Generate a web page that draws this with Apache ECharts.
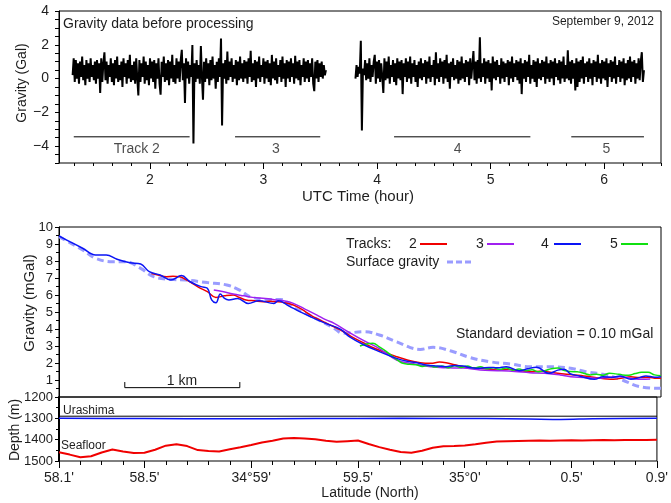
<!DOCTYPE html>
<html><head><meta charset="utf-8">
<script src="https://cdn.jsdelivr.net/npm/echarts@6/dist/echarts.min.js"></script>
<style>html,body{margin:0;padding:0;background:#fff}#c{width:671px;height:503px}</style>
</head><body><div id="c"></div><script>
const FONT = '"Liberation Sans", Arial, Helvetica, sans-serif';
const TXT = '#1e1e1e';

// ---------- top panel: raw gravity (Gal) vs UTC hour ----------
const seg1Start = 1.32, seg1End = 3.55;
const seg1Values = [
0.2,1.2,-0.2,1.1,0.0,0.9,-0.3,1.0,0.1,1.3,-0.1,0.8,-0.4,1.1,0.0,0.9,-0.2,1.2,0.1,0.8,
-0.1,1.0,-0.3,1.1,0.0,0.9,-0.85,1.2,-0.2,0.9,1.55,-0.1,1.0,-0.3,0.8,0.1,1.2,-0.2,0.9,-0.4,
1.1,0.0,1.3,-0.2,0.8,-0.1,1.0,-0.5,1.2,0.1,0.9,-0.3,1.1,0.0,1.4,-0.2,0.8,-0.1,1.0,-0.3,
1.2,0.0,-1.0,1.1,-0.2,0.9,0.1,1.3,-0.3,1.0,-0.1,0.8,-0.4,1.2,0.0,1.0,-0.2,1.1,-0.6,0.9,
0.0,1.2,-0.3,-0.95,1.0,0.1,1.3,-0.2,0.9,-0.1,1.1,-0.4,1.0,0.0,1.4,-0.2,0.8,-0.3,1.2,0.0,
1.0,-0.2,1.1,1.7,-0.1,0.9,-1.45,1.2,0.0,1.0,-0.3,0.8,0.1,1.98,-3.85,0.9,-0.2,1.1,0.0,0.8,
-0.3,1.92,0.1,-1.25,1.0,-0.2,1.2,0.0,0.9,-0.4,1.1,-0.1,1.3,0.0,0.8,-0.6,1.0,-0.2,1.2,0.1,
2.37,-2.78,0.9,0.0,1.1,-0.3,1.6,-0.1,1.0,0.1,1.2,-0.2,0.8,0.0,1.1,-0.4,1.0,-0.1,1.3,0.0,
0.9,-0.2,1.1,0.0,1.0,-0.3,1.2,0.1,1.65,-0.2,0.9,-0.1,1.1,-0.5,1.0,0.0,1.3,-0.2,0.8,0.1,
1.2,-0.3,1.0,0.0,1.1,-0.2,0.9,-0.4,1.4,0.0,1.0,-0.1,1.2,-0.3,0.8,0.1,1.1,-0.2,1.3,0.0,
0.9,-0.5,1.1,0.0,1.0,-0.2,1.2,0.1,0.9,-0.3,1.35,0.0,1.0,-0.1,1.1,-0.4,0.8,0.1,1.2,-0.2,
1.0,0.0,1.1,-0.2,0.9,0.1,1.2,-0.3,-0.75,1.0,0.0,1.1,-0.2,0.9,0.1,1.0,0.0,0.8,0.2,0.5
];
const seg2Start = 3.81, seg2End = 6.35;
const seg2Values = [
0.0,0.8,0.1,0.7,0.3,2.24,-3.08,0.6,0.2,1.1,-0.1,0.9,0.0,1.2,-0.2,0.8,0.1,1.0,1.4,-0.3,
1.0,0.0,1.1,-0.2,0.9,0.1,-0.85,1.2,-0.1,1.0,0.0,1.3,-0.3,0.8,0.1,1.1,-0.2,0.9,-0.4,1.2,
0.0,1.0,-0.1,1.1,-0.92,0.9,0.1,1.2,-0.2,1.0,0.0,1.3,-0.3,0.9,0.1,1.1,-0.2,0.8,-0.5,1.0,
0.0,1.2,-0.1,0.9,0.1,1.1,-0.3,1.0,0.0,1.3,-0.2,0.8,0.1,1.1,-0.4,1.55,0.0,0.9,-0.2,1.2,
0.1,1.0,-0.3,1.1,0.0,1.4,-0.2,0.9,-0.6,1.0,0.1,1.2,-0.1,0.8,0.0,1.1,-0.3,1.0,-0.1,1.3,
0.0,0.9,-0.2,1.1,0.1,1.0,-0.4,1.2,0.0,0.8,1.63,-0.1,1.0,-0.3,1.1,0.0,2.45,-0.2,0.9,0.1,
1.2,-0.3,1.0,0.0,1.1,-0.2,0.9,-0.7,1.3,0.0,1.0,-0.1,1.1,0.1,0.8,-0.3,1.2,0.0,1.0,-0.2,
0.9,0.1,1.1,-0.4,1.0,0.0,1.3,-0.2,0.9,0.1,1.1,-0.1,1.0,-0.3,1.2,-0.92,0.9,0.0,1.1,-0.2,
1.0,0.1,1.4,-0.3,0.8,0.0,1.1,-0.2,1.0,-0.5,1.2,0.0,0.9,-0.1,1.1,0.1,1.0,-0.3,1.3,0.0,
0.9,-0.2,1.1,0.0,1.0,-0.4,1.2,0.1,0.9,-0.1,1.1,-0.3,1.0,0.0,1.3,-0.2,0.8,0.0,1.68,-0.1,
1.0,-0.3,1.1,0.0,0.9,-0.7,1.2,-0.5,1.0,-0.2,1.1,0.0,1.3,-0.3,0.9,0.1,1.0,-0.2,1.2,0.0,
0.9,-0.4,1.1,0.1,1.0,-0.2,1.4,0.0,0.9,-0.3,1.1,0.0,1.0,-0.1,1.2,-0.5,0.9,0.1,1.1,-0.2,
1.0,0.0,1.3,-0.3,0.8,0.1,1.1,-0.2,1.0,0.0,1.2,-0.4,0.9,-0.1,1.1,0.0,1.3,-0.2,1.0,0.1,
1.1,-0.3,0.9,0.0,1.2,-0.1,1.0,1.56,-0.2,0.5
];
const trackNames = ['Track 2', '3', '4', '5'];
const trackStart = [1.33, 2.75, 4.15, 5.71];
const trackEnd   = [2.35, 3.50, 5.35, 6.35];
const trackLabelX = [1.885, 3.11, 4.71, 6.02];
const trackBarY = -3.45, trackLabelY = -4.15;
const utcMajor = [2, 3, 4, 5, 6];

// ---------- middle panel: processed gravity (mGal) vs latitude minutes ----------
const track2Lat = [58.53,58.56,58.60,58.63,58.66,58.69,58.72,58.75,58.79,58.83,58.87,58.91,58.94,58.97,59.01,59.05,59.08,59.11,59.15,59.19,59.23,59.27,59.31,59.35,59.41,59.46,59.52,59.57,59.62,59.67,59.72,59.78,59.83,59.87,59.90,59.94,59.98,60.03,60.08,60.14,60.19,60.24,60.29,60.34,60.40,60.45,60.50,60.54,60.57,60.61,60.65,60.68,60.72,60.76,60.80,60.84,60.88,60.90];
const track2Val = [7.27,7.18,7.08,7.10,7.08,6.90,6.69,6.45,6.20,5.86,5.95,6.00,5.85,5.71,5.66,5.61,5.63,5.61,5.55,5.41,5.15,4.82,4.55,4.30,3.94,3.55,3.16,2.85,2.60,2.37,2.18,2.02,1.98,2.06,2.02,1.90,1.78,1.72,1.66,1.59,1.63,1.55,1.49,1.52,1.43,1.35,1.30,1.24,1.19,1.12,1.06,1.04,1.12,1.19,1.14,1.16,1.10,1.10];
const track3Lat = [58.82,58.86,58.91,58.96,59.00,59.06,59.11,59.15,59.19,59.24,59.30,59.34,59.38,59.45,59.52,59.59,59.67,59.75,59.83,59.90,59.98,60.06,60.14,60.22,60.29,60.36,60.43,60.48,60.54,60.60,60.66,60.71,60.76,60.81,60.85];
const track3Val = [6.29,6.20,6.06,5.95,5.86,5.80,5.71,5.65,5.51,5.20,4.82,4.55,4.33,3.80,3.30,2.85,2.18,1.95,1.78,1.72,1.70,1.59,1.55,1.50,1.43,1.40,1.30,1.19,1.15,1.10,1.16,1.19,1.10,1.04,1.06];
const track4Lat = [58.10,58.15,58.21,58.27,58.32,58.37,58.43,58.48,58.52,58.57,58.62,58.67,58.71,58.76,58.79,58.81,58.83,58.85,58.87,58.89,58.93,58.98,59.03,59.10,59.12,59.17,59.22,59.27,59.34,59.41,59.45,59.52,59.59,59.67,59.73,59.77,59.81,59.86,59.90,59.94,59.98,60.02,60.06,60.10,60.14,60.18,60.24,60.28,60.32,60.38,60.42,60.45,60.48,60.52,60.59,60.63,60.67,60.71,60.76,60.80,60.83,60.87,60.90];
const track4Val = [9.47,9.14,8.75,8.35,8.35,8.10,7.90,7.82,7.37,7.18,6.88,7.14,6.78,6.49,6.40,5.71,5.55,6.06,5.80,5.71,5.80,5.50,5.66,5.50,5.66,5.35,5.02,4.72,4.33,3.98,3.55,3.06,2.67,2.27,2.08,2.00,1.88,1.82,1.78,1.86,1.82,1.72,1.69,1.74,1.72,1.78,1.55,1.66,1.75,1.39,1.58,1.63,1.35,1.24,1.04,1.19,1.15,1.24,1.04,1.14,1.24,1.16,1.19];
const track5Lat = [59.50,59.53,59.56,59.59,59.62,59.65,59.68,59.70,59.73,59.76,59.79,59.82,59.85,59.88,59.91,59.94,59.97,60.00,60.03,60.06,60.09,60.12,60.15,60.18,60.21,60.24,60.27,60.30,60.33,60.36,60.39,60.42,60.45,60.48,60.51,60.54,60.57,60.60,60.63,60.66,60.69,60.72,60.75,60.78,60.81,60.84,60.87,60.90];
const track5Val = [3.00,3.12,3.16,2.95,2.70,2.40,2.12,1.98,1.92,1.90,1.80,1.86,1.76,1.82,1.72,1.84,1.74,1.82,1.70,1.78,1.66,1.72,1.62,1.70,1.58,1.64,1.55,1.60,1.48,1.55,1.66,1.70,1.56,1.50,1.48,1.40,1.30,1.34,1.28,1.40,1.36,1.30,1.28,1.38,1.45,1.46,1.30,1.25];
const surfLat = [58.10,58.21,58.27,58.35,58.41,58.48,58.54,58.62,58.69,58.79,58.88,58.94,58.99,59.07,59.13,59.19,59.28,59.38,59.42,59.52,59.59,59.67,59.78,59.84,59.92,60.01,60.10,60.20,60.29,60.38,60.48,60.55,60.65,60.72,60.80,60.90];
const surfVal = [9.43,8.65,8.16,7.96,7.96,7.57,7.08,6.92,6.88,6.73,6.59,6.29,5.90,5.74,5.74,5.27,4.72,4.04,3.75,3.84,3.65,3.25,2.80,2.92,2.72,2.33,2.08,1.94,1.78,1.78,1.69,1.49,1.29,1.00,0.61,0.51];
const scaleBarLat = [58.406, 58.941];
const scaleBarY = 0.55, scaleBarTickTop = 0.88;

// ---------- bottom panel: depth (m) ----------
const seafloorLat = [58.10,58.15,58.20,58.25,58.30,58.35,58.40,58.45,58.50,58.55,58.60,58.65,58.70,58.75,58.80,58.85,58.90,58.95,59.00,59.05,59.10,59.15,59.20,59.25,59.30,59.35,59.40,59.45,59.50,59.55,59.60,59.65,59.70,59.75,59.80,59.85,59.90,59.95,60.00,60.05,60.10,60.15,60.20,60.25,60.30,60.35,60.40,60.45,60.50,60.55,60.60,60.65,60.70,60.75,60.80,60.85,60.90];
const seafloorDepth = [1459,1470,1482,1478,1460,1446,1455,1462,1461,1447,1428,1421,1430,1449,1453,1455,1445,1436,1425,1413,1405,1395,1392,1394,1398,1405,1410,1407,1404,1420,1435,1447,1458,1461,1452,1438,1431,1430,1427,1422,1414,1409,1407,1406,1405,1404,1405,1404,1403,1404,1403,1402,1403,1402,1401,1401,1400];
const urashimaLat = [58.10,58.50,58.90,59.30,59.70,60.10,60.30,60.45,60.60,60.90];
const urashimaDepth = [1300,1301,1302,1301,1300,1301,1303,1305,1302,1300];
const refDepthLat = [58.10, 60.90];
const refDepth = [1290, 1290];
const latLabelValues = [58.1, 58.5, 59, 59.5, 60, 60.5, 60.9];
const latLabelTexts = ["58.1'", "58.5'", "34\u00b059'", "59.5'", "35\u00b00'", "0.5'", "0.9'"];
const latMajor = [58.1, 58.5, 59, 59.5, 60, 60.5, 60.9];

// ---------- build ----------
function seg(vals, a, b) { const n = vals.length; return vals.map((v, i) => [a + i * (b - a) / (n - 1), v]); }
function zip(xs, ys) { return xs.map((x, i) => [x, ys[i]]); }
const utcMinor = []; for (let k = 8; k <= 39; k++) { if (k % 6 !== 0) utcMinor.push(k / 6); }
const latMinor = []; for (let k = 582; k <= 608; k++) { if (k % 5 !== 0) latMinor.push(k / 10); }

const C = { red: '#f00000', purple: '#a020f0', blue: '#0a14f5', green: '#10e010', surf: '#9a9cff' };
const lbl = { fontFamily: FONT, fontSize: 14, color: TXT };
const lbl13 = { fontFamily: FONT, fontSize: 13, color: TXT };
const blk = { color: '#000', width: 1 };

const chart = echarts.init(document.getElementById('c'), null, { renderer: 'canvas' });
const series = [];
series.push({ type: 'line', xAxisIndex: 0, yAxisIndex: 0, data: seg(seg1Values, seg1Start, seg1End), showSymbol: false, symbol: 'none', lineStyle: { color: '#000', width: 2 }, silent: true });
series.push({ type: 'line', xAxisIndex: 0, yAxisIndex: 0, data: seg(seg2Values, seg2Start, seg2End), showSymbol: false, symbol: 'none', lineStyle: { color: '#000', width: 2 }, silent: true });
trackStart.forEach((s, i) => series.push({ type: 'line', xAxisIndex: 0, yAxisIndex: 0, data: [[s, trackBarY], [trackEnd[i], trackBarY]], symbol: 'none', lineStyle: { color: '#000', width: 1 }, silent: true }));
series.push({ type: 'scatter', xAxisIndex: 0, yAxisIndex: 0, symbolSize: 1, itemStyle: { color: 'rgba(0,0,0,0)' }, silent: true,
  data: trackLabelX.map((x, i) => [x, trackLabelY, trackNames[i]]),
  label: { show: true, position: 'inside', formatter: p => p.value[2], ...lbl } });

const mline = (lat, val, color, extra) => Object.assign({ type: 'line', xAxisIndex: 2, yAxisIndex: 1, data: zip(lat, val), showSymbol: false, symbol: 'none', smooth: 0.4, lineStyle: { color, width: 1.5 }, silent: true }, extra || {});
series.push(mline(surfLat, surfVal, C.surf, { lineStyle: { color: C.surf, width: 3, type: [7, 4] }, z: 1 }));
series.push(mline(track2Lat, track2Val, C.red));
series.push(mline(track3Lat, track3Val, C.purple));
series.push(mline(track5Lat, track5Val, C.green));
series.push(mline(track4Lat, track4Val, C.blue));
series.push({ type: 'line', xAxisIndex: 2, yAxisIndex: 1, symbol: 'none', silent: true, lineStyle: { color: '#000', width: 1 },
  data: [[scaleBarLat[0], scaleBarTickTop], [scaleBarLat[0], scaleBarY], [scaleBarLat[1], scaleBarY], [scaleBarLat[1], scaleBarTickTop]] });

series.push({ type: 'line', xAxisIndex: 3, yAxisIndex: 2, data: zip(refDepthLat, refDepth), symbol: 'none', lineStyle: { color: '#000', width: 1 }, silent: true });
series.push({ type: 'line', xAxisIndex: 3, yAxisIndex: 2, data: zip(urashimaLat, urashimaDepth), symbol: 'none', smooth: 0.3, lineStyle: { color: C.blue, width: 1.5 }, silent: true });
series.push({ type: 'line', xAxisIndex: 3, yAxisIndex: 2, data: zip(seafloorLat, seafloorDepth), symbol: 'none', lineStyle: { color: C.red, width: 2 }, silent: true });

const gridBase = { left: 59, width: 602, show: true, borderColor: '#000', borderWidth: 1, backgroundColor: 'rgba(0,0,0,0)', containLabel: false };
const noLine = { show: false, onZero: false };

const text = (t, x, y, size, align, rot) => ({ type: 'text', x, y, rotation: rot || 0, silent: true,
  style: { text: t, font: size + 'px ' + FONT, fill: TXT, align: align || 'left', verticalAlign: 'middle' } });
const seg2d = (x1, x2, y, color, w, dash) => ({ type: 'line', silent: true, shape: { x1, y1: y, x2, y2: y }, style: { stroke: color, lineWidth: w, lineDash: dash || null } });

chart.setOption({
  animation: false,
  backgroundColor: '#fff',
  grid: [
    Object.assign({ top: 11, height: 152 }, gridBase),
    Object.assign({ top: 227, height: 170 }, gridBase),
    Object.assign({ top: 397, height: 64 }, gridBase)
  ],
  xAxis: [
    { gridIndex: 0, type: 'value', min: 1.2, max: 6.5, position: 'bottom', axisLine: noLine, splitLine: { show: false },
      axisTick: { show: true, length: 6, customValues: utcMajor, lineStyle: blk },
      axisLabel: { customValues: utcMajor, margin: 10, ...lbl } },
    { gridIndex: 0, type: 'value', min: 1.2, max: 6.5, position: 'bottom', axisLine: noLine, splitLine: { show: false },
      axisTick: { show: true, length: 3, customValues: utcMinor, lineStyle: blk }, axisLabel: { show: false } },
    { gridIndex: 1, type: 'value', min: 58.1, max: 60.9, position: 'bottom', axisLine: noLine, splitLine: { show: false }, axisTick: { show: false }, axisLabel: { show: false } },
    { gridIndex: 2, type: 'value', min: 58.1, max: 60.9, position: 'bottom', axisLine: noLine, splitLine: { show: false },
      axisTick: { show: true, length: 7, customValues: latMajor, lineStyle: blk },
      axisLabel: { customValues: latLabelValues, margin: 10, ...lbl,
        formatter: v => { const i = latLabelValues.findIndex(u => Math.abs(u - v) < 1e-6); return i >= 0 ? latLabelTexts[i] : ''; } } },
    { gridIndex: 2, type: 'value', min: 58.1, max: 60.9, position: 'bottom', axisLine: noLine, splitLine: { show: false },
      axisTick: { show: true, length: 4, customValues: latMinor, lineStyle: blk }, axisLabel: { show: false } }
  ],
  yAxis: [
    { gridIndex: 0, type: 'value', min: -5, max: 4, interval: 0.5, axisLine: { show: true, onZero: false, lineStyle: blk }, splitLine: { show: false },
      axisTick: { show: true, length: 4, lineStyle: blk },
      axisLabel: { margin: 10, ...lbl, formatter: v => (Math.abs(v % 2) < 1e-9 ? (v < 0 ? '\u2212' + Math.abs(v) : String(v)) : '') } },
    { gridIndex: 1, type: 'value', min: 0, max: 10, interval: 1, axisLine: { show: true, onZero: false, lineStyle: blk }, splitLine: { show: false },
      axisTick: { show: true, length: 4, lineStyle: blk }, minorTick: { show: true, splitNumber: 2, length: 3, lineStyle: blk },
      axisLabel: { margin: 6, ...lbl13, formatter: v => (v === 0 ? '' : String(v)) } },
    { gridIndex: 2, type: 'value', min: 1200, max: 1500, interval: 100, inverse: true, axisLine: { show: true, onZero: false, lineStyle: { color: '#000', width: 2 } }, splitLine: { show: false },
      axisTick: { show: true, length: 4, lineStyle: blk }, minorTick: { show: true, splitNumber: 2, length: 3, lineStyle: blk },
      axisLabel: { margin: 6, ...lbl13, formatter: v => String(v) } }
  ],
  series,
  graphic: [
    text('Gravity data before processing', 63, 24, 14),
    text('September 9, 2012', 654, 22, 12, 'right'),
    text('UTC Time (hour)', 358, 197, 15, 'center'),
    text('Gravity (Gal)', 22, 83, 14, 'center', Math.PI / 2),
    text('Gravity (mGal)', 30, 303, 15, 'center', Math.PI / 2),
    text('Depth (m)', 15, 430, 14, 'center', Math.PI / 2),
    text('Latitude (North)', 370, 493, 14, 'center'),
    text('Tracks:', 346, 244, 14),
    text('2', 409, 244, 14), seg2d(420, 447, 244, C.red, 2),
    text('3', 476, 244, 14), seg2d(487, 514, 244, C.purple, 2),
    text('4', 541, 244, 14), seg2d(554, 581, 244, C.blue, 2),
    text('5', 610, 244, 14), seg2d(621, 648, 244, C.green, 2),
    text('Surface gravity', 346, 262, 14), seg2d(447, 473, 262, C.surf, 3, [6, 3]),
    text('Standard deviation = 0.10 mGal', 456, 334, 14),
    text('1 km', 182, 381, 14, 'center'),
    text('Urashima', 63, 411, 12),
    text('Seafloor', 61, 446, 12)
  ]
});
</script></body></html>
